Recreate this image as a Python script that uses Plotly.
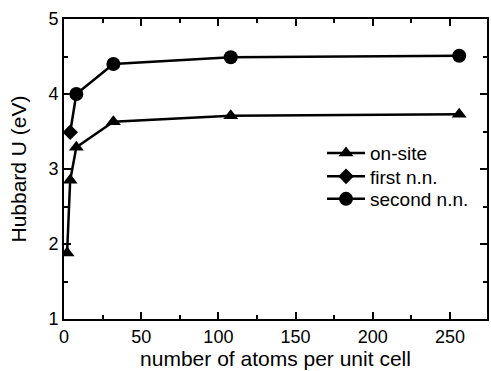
import plotly.graph_objects as go

# Hubbard U versus supercell size
onsite_n = [2, 4, 8, 32, 108, 256]
onsite_u = [1.88, 2.85, 3.29, 3.63, 3.71, 3.73]

first_nn_n = [4]
first_nn_u = [3.49]

second_nn_n = [8, 32, 108, 256]
second_nn_u = [4.00, 4.40, 4.49, 4.51]

line_style = dict(color="black", width=2.5)

fig = go.Figure()

# segment joining the first-n.n. point to the second-n.n. curve
fig.add_trace(go.Scatter(
    x=[first_nn_n[-1], second_nn_n[0]], y=[first_nn_u[-1], second_nn_u[0]],
    mode="lines", line=line_style, showlegend=False, hoverinfo="skip"))

fig.add_trace(go.Scatter(
    x=onsite_n, y=onsite_u, mode="lines+markers", name="on-site",
    line=line_style, marker=dict(symbol="triangle-up", size=13, color="black"),
    legend="legend"))
fig.add_trace(go.Scatter(
    x=first_nn_n, y=first_nn_u, mode="lines+markers", name="first n.n.",
    line=line_style, marker=dict(symbol="diamond", size=12, color="black"),
    legend="legend2"))
fig.add_trace(go.Scatter(
    x=second_nn_n, y=second_nn_u, mode="lines+markers", name="second n.n.",
    line=line_style, marker=dict(symbol="circle", size=14, color="black"),
    legend="legend3"))

axis_common = dict(
    showline=True, linecolor="black", linewidth=2, mirror="ticks",
    ticks="inside", ticklen=7, tickwidth=1.5, tickcolor="black",
    showgrid=False, zeroline=False,
    tickfont=dict(size=18, color="black"),
)

fig.update_xaxes(
    range=[0, 274], dtick=50, tick0=0,
    minor=dict(ticks="inside", ticklen=4, dtick=25, tickcolor="black", tickwidth=1.5),
    title=dict(text="number of atoms per unit cell", font=dict(size=21, color="black"), standoff=6),
    **axis_common)
fig.update_yaxes(
    range=[1, 5], dtick=1, tick0=1,
    minor=dict(ticks="inside", ticklen=4, dtick=0.5, tickcolor="black", tickwidth=1.5),
    title=dict(text="Hubbard U (eV)", font=dict(size=21, color="black"), standoff=16),
    **axis_common)

legend_style = dict(xanchor="left", yanchor="middle", font=dict(size=19),
                    bgcolor="rgba(0,0,0,0)", itemwidth=38)

fig.update_layout(
    width=491, height=371,
    margin=dict(l=64, r=2, t=19, b=52),
    paper_bgcolor="white", plot_bgcolor="white",
    font=dict(family="Liberation Sans, Arial, sans-serif", color="black"),
    legend=dict(x=0.61, y=0.553, **legend_style),
    legend2=dict(x=0.61, y=0.475, **legend_style),
    legend3=dict(x=0.61, y=0.40, **legend_style),
)

fig.write_html("out.html")
